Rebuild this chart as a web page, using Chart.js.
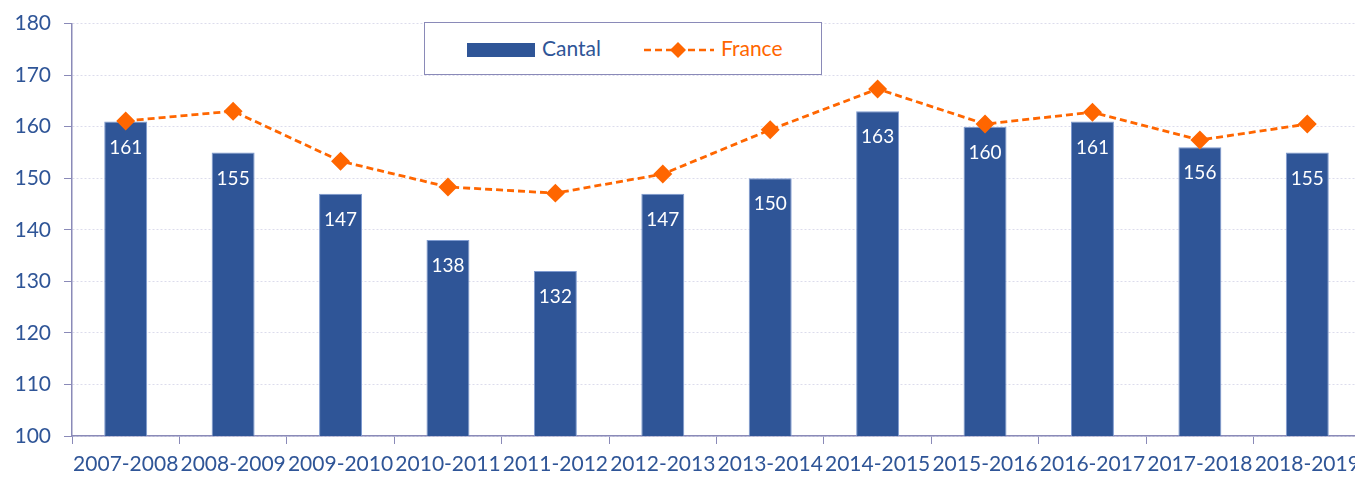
<!DOCTYPE html>
<html>
<head>
<meta charset="utf-8">
<script src="https://cdn.jsdelivr.net/npm/chart.js@4/dist/chart.umd.min.js"></script>
<style>
  body { margin: 0; background: #fff; overflow: hidden; }
  #wrap { position: relative; width: 1372px; height: 477px; }
  #legende {
    position: absolute; left: 424px; top: 22px; width: 396px; height: 51px;
    border: 1px solid #8A8AB8; background: #fff;
    font-family: Lato, sans-serif; font-size: 21px;
  }
  #legende .item { position: absolute; top: 12px; line-height: 26px; }
</style>
</head>
<body>
<div id="wrap">
  <canvas id="graphique"></canvas>
  <div id="legende">
    <div class="item" style="left:42px; color:#2F5597;">
      <span style="display:inline-block; width:68px; height:14px; background:#2F5597; vertical-align:-1px; margin-right:7px;"></span>Cantal
    </div>
    <div class="item" style="left:218px; color:#FF6600;">
      <svg width="72" height="18" style="vertical-align:-3px; margin-right:6px;">
        <line x1="1" y1="9" x2="71" y2="9" stroke="#FF6600" stroke-width="2.5" stroke-dasharray="7,4"/>
        <polygon points="35,1 43,9 35,17 27,9" fill="#FF6600"/>
      </svg>France
    </div>
  </div>
</div>
<script>
const annees = ['2007-2008', '2008-2009', '2009-2010', '2010-2011', '2011-2012', '2012-2013',
                '2013-2014', '2014-2015', '2015-2016', '2016-2017', '2017-2018', '2018-2019'];
const valeursCantal = [161, 155, 147, 138, 132, 147, 150, 163, 160, 161, 156, 155];
const valeursFrance = [161.1, 163.0, 153.3, 148.3, 147.1, 150.8, 159.4, 167.3, 160.5, 162.8, 157.4, 160.5];

const bleu = '#2F5597';
const orange = '#FF6600';
const couleurAxe = '#8A8AB8';

// etiquettes blanches dans les barres
const etiquettesBarres = {
    id: 'etiquettesBarres',
    afterDatasetsDraw(chart) {
        const ctx = chart.ctx;
        const meta = chart.getDatasetMeta(1);
        ctx.save();
        ctx.fillStyle = '#fff';
        ctx.font = '19px Lato, sans-serif';
        ctx.textAlign = 'center';
        ctx.textBaseline = 'middle';
        meta.data.forEach((barre, i) => {
            ctx.fillText(valeursCantal[i], barre.x, barre.y + 26);
        });
        ctx.restore();
    }
};

new Chart(document.getElementById('graphique').getContext('2d'), {
    type: 'bar',
    data: {
        labels: annees,
        datasets: [
            {
                type: 'line',
                label: 'France',
                data: valeursFrance,
                borderColor: orange,
                backgroundColor: orange,
                borderWidth: 2.8,
                borderDash: [7, 4],
                pointStyle: 'rectRot',
                pointRadius: 7.5,
                pointBackgroundColor: orange,
                pointBorderColor: orange,
                fill: false,
                tension: 0,
                order: 0,
            },
            {
                label: 'Cantal',
                data: valeursCantal,
                backgroundColor: bleu,
                borderColor: '#7F9BD0',
                borderWidth: 1,
                barPercentage: 0.4,
                categoryPercentage: 1,
                order: 1,
            },
        ],
    },
    options: {
        responsive: true,
        maintainAspectRatio: false,
        animation: false,
        layout: { padding: { top: 22, right: 11, left: 0, bottom: 0 } },
        plugins: {
            legend: { display: false },
            tooltip: { enabled: false },
        },
        scales: {
            x: {
                afterFit: (scale) => { scale.height = 41; },
                grid: {
                    drawOnChartArea: false,
                    tickLength: 8,
                    tickColor: couleurAxe,
                    offset: true,
                },
                border: { color: couleurAxe, width: 1.5 },
                ticks: {
                    color: bleu,
                    font: { family: 'Lato', size: 21 },
                    padding: 8,
                    maxRotation: 0,
                    autoSkip: false,
                },
            },
            y: {
                min: 100,
                max: 180,
                afterFit: (scale) => { scale.width = 72; },
                grid: {
                    color: '#DCDCEC',
                    tickColor: couleurAxe,
                    tickLength: 8,
                },
                border: { color: couleurAxe, width: 1.5, dash: [2, 2] },
                ticks: {
                    stepSize: 10,
                    color: bleu,
                    font: { family: 'Lato', size: 21, lineHeight: 1 },
                    padding: 13,
                },
            },
        },
    },
    plugins: [etiquettesBarres],
});
</script>
</body>
</html>
